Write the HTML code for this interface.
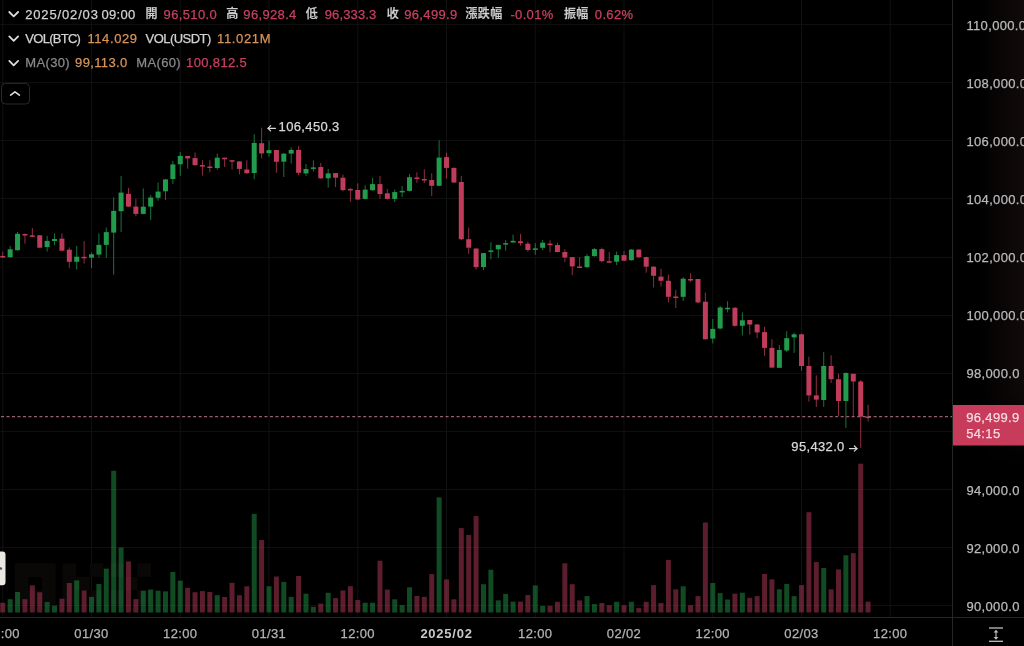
<!DOCTYPE html>
<html><head><meta charset="utf-8"><title>BTC chart</title><style>
html,body{margin:0;padding:0;background:#000;}
#root{position:relative;width:1024px;height:646px;background:#000;overflow:hidden;font-family:"Liberation Sans","Noto Sans CJK TC",sans-serif;font-size:13px;}
.t{position:absolute;white-space:nowrap;line-height:13px;letter-spacing:0.35px;-webkit-text-stroke:0.25px currentColor;}
</style></head><body><div id="root">
<svg width="1024" height="646" viewBox="0 0 1024 646" style="position:absolute;left:0;top:0"><defs><linearGradient id="axg" x1="0" x2="1" y1="0" y2="0"><stop offset="0" stop-color="#000"/><stop offset="0.33" stop-color="#000"/><stop offset="1" stop-color="#110a0b"/></linearGradient><linearGradient id="axm" x1="0" x2="0" y1="0" y2="1"><stop offset="0" stop-color="#fff"/><stop offset="0.8" stop-color="#fff"/><stop offset="1" stop-color="#000"/></linearGradient><mask id="axmask"><rect x="953" y="0" width="71" height="470" fill="url(#axm)"/></mask></defs><rect x="953" y="0" width="71" height="470" fill="url(#axg)" mask="url(#axmask)"/><line x1="0" x2="952" y1="24.5" y2="24.5" stroke="#0f0f0f" stroke-width="1"/><line x1="0" x2="952" y1="82.5" y2="82.5" stroke="#0f0f0f" stroke-width="1"/><line x1="0" x2="952" y1="140.5" y2="140.5" stroke="#0f0f0f" stroke-width="1"/><line x1="0" x2="952" y1="198.5" y2="198.5" stroke="#0f0f0f" stroke-width="1"/><line x1="0" x2="952" y1="257.5" y2="257.5" stroke="#0f0f0f" stroke-width="1"/><line x1="0" x2="952" y1="315.5" y2="315.5" stroke="#0f0f0f" stroke-width="1"/><line x1="0" x2="952" y1="373.5" y2="373.5" stroke="#0f0f0f" stroke-width="1"/><line x1="0" x2="952" y1="431.5" y2="431.5" stroke="#0f0f0f" stroke-width="1"/><line x1="0" x2="952" y1="489.5" y2="489.5" stroke="#0f0f0f" stroke-width="1"/><line x1="0" x2="952" y1="547.5" y2="547.5" stroke="#0f0f0f" stroke-width="1"/><line x1="0" x2="952" y1="605.5" y2="605.5" stroke="#0f0f0f" stroke-width="1"/><line x1="2.75" x2="2.75" y1="0" y2="617" stroke="#111111" stroke-width="1"/><line x1="91.5" x2="91.5" y1="0" y2="617" stroke="#111111" stroke-width="1"/><line x1="180.25" x2="180.25" y1="0" y2="617" stroke="#111111" stroke-width="1"/><line x1="269.0" x2="269.0" y1="0" y2="617" stroke="#111111" stroke-width="1"/><line x1="357.75" x2="357.75" y1="0" y2="617" stroke="#111111" stroke-width="1"/><line x1="446.5" x2="446.5" y1="0" y2="617" stroke="#111111" stroke-width="1"/><line x1="535.25" x2="535.25" y1="0" y2="617" stroke="#111111" stroke-width="1"/><line x1="624.0" x2="624.0" y1="0" y2="617" stroke="#111111" stroke-width="1"/><line x1="712.75" x2="712.75" y1="0" y2="617" stroke="#111111" stroke-width="1"/><line x1="801.5" x2="801.5" y1="0" y2="617" stroke="#111111" stroke-width="1"/><line x1="890.25" x2="890.25" y1="0" y2="617" stroke="#111111" stroke-width="1"/><path d="M14.8 563.3h40.8v40.8h-40.8z M28.4 576.9v13.6h13.6v-13.6z" fill="#0a0707" fill-rule="evenodd"/><rect x="62.5" y="563.3" width="13.6" height="13.6" fill="#0a0707"/><rect x="62.5" y="576.9" width="13.6" height="13.6" fill="#0a0707"/><rect x="62.5" y="590.5" width="13.6" height="13.6" fill="#0a0707"/><rect x="76.1" y="576.9" width="13.6" height="13.6" fill="#0a0707"/><rect x="89.7" y="563.3" width="13.6" height="13.6" fill="#0a0707"/><rect x="89.7" y="590.5" width="13.6" height="13.6" fill="#0a0707"/><rect x="110.2" y="563.3" width="13.6" height="13.6" fill="#0a0707"/><rect x="137.4" y="563.3" width="13.6" height="13.6" fill="#0a0707"/><rect x="123.8" y="576.9" width="13.6" height="13.6" fill="#0a0707"/><rect x="110.2" y="590.5" width="13.6" height="13.6" fill="#0a0707"/><rect x="137.4" y="590.5" width="13.6" height="13.6" fill="#0a0707"/><rect x="0.25" y="602.7" width="5.0" height="9.8" fill="#c03c5b" fill-opacity="0.48"/><rect x="7.65" y="599.2" width="5.0" height="13.3" fill="#229c4c" fill-opacity="0.48"/><rect x="15.04" y="592.0" width="5.0" height="20.5" fill="#229c4c" fill-opacity="0.48"/><rect x="22.44" y="599.2" width="5.0" height="13.3" fill="#c03c5b" fill-opacity="0.48"/><rect x="29.83" y="585.3" width="5.0" height="27.2" fill="#c03c5b" fill-opacity="0.48"/><rect x="37.23" y="592.3" width="5.0" height="20.2" fill="#c03c5b" fill-opacity="0.48"/><rect x="44.63" y="602.1" width="5.0" height="10.4" fill="#229c4c" fill-opacity="0.48"/><rect x="52.02" y="605.6" width="5.0" height="6.9" fill="#229c4c" fill-opacity="0.48"/><rect x="59.42" y="598.7" width="5.0" height="13.8" fill="#c03c5b" fill-opacity="0.48"/><rect x="66.81" y="583.0" width="5.0" height="29.5" fill="#c03c5b" fill-opacity="0.48"/><rect x="74.21" y="580.4" width="5.0" height="32.1" fill="#229c4c" fill-opacity="0.48"/><rect x="81.61" y="590.5" width="5.0" height="22.0" fill="#c03c5b" fill-opacity="0.48"/><rect x="89.00" y="596.9" width="5.0" height="15.6" fill="#229c4c" fill-opacity="0.48"/><rect x="96.40" y="584.0" width="5.0" height="28.5" fill="#229c4c" fill-opacity="0.48"/><rect x="103.79" y="568.6" width="5.0" height="43.9" fill="#229c4c" fill-opacity="0.48"/><rect x="111.19" y="470.8" width="5.0" height="141.7" fill="#229c4c" fill-opacity="0.48"/><rect x="118.59" y="547.5" width="5.0" height="65.0" fill="#229c4c" fill-opacity="0.48"/><rect x="125.98" y="561.4" width="5.0" height="51.1" fill="#c03c5b" fill-opacity="0.48"/><rect x="133.38" y="599.1" width="5.0" height="13.4" fill="#c03c5b" fill-opacity="0.48"/><rect x="140.77" y="590.7" width="5.0" height="21.8" fill="#229c4c" fill-opacity="0.48"/><rect x="148.17" y="589.5" width="5.0" height="23.0" fill="#229c4c" fill-opacity="0.48"/><rect x="155.57" y="590.7" width="5.0" height="21.8" fill="#229c4c" fill-opacity="0.48"/><rect x="162.96" y="591.4" width="5.0" height="21.1" fill="#229c4c" fill-opacity="0.48"/><rect x="170.36" y="572.0" width="5.0" height="40.5" fill="#229c4c" fill-opacity="0.48"/><rect x="177.75" y="580.6" width="5.0" height="31.9" fill="#229c4c" fill-opacity="0.48"/><rect x="185.15" y="587.8" width="5.0" height="24.7" fill="#c03c5b" fill-opacity="0.48"/><rect x="192.55" y="592.2" width="5.0" height="20.3" fill="#c03c5b" fill-opacity="0.48"/><rect x="199.94" y="591.1" width="5.0" height="21.4" fill="#c03c5b" fill-opacity="0.48"/><rect x="207.34" y="592.0" width="5.0" height="20.5" fill="#c03c5b" fill-opacity="0.48"/><rect x="214.73" y="595.2" width="5.0" height="17.3" fill="#229c4c" fill-opacity="0.48"/><rect x="222.13" y="597.0" width="5.0" height="15.5" fill="#c03c5b" fill-opacity="0.48"/><rect x="229.53" y="582.7" width="5.0" height="29.8" fill="#c03c5b" fill-opacity="0.48"/><rect x="236.92" y="595.2" width="5.0" height="17.3" fill="#c03c5b" fill-opacity="0.48"/><rect x="244.32" y="586.3" width="5.0" height="26.2" fill="#c03c5b" fill-opacity="0.48"/><rect x="251.71" y="513.9" width="5.0" height="98.6" fill="#229c4c" fill-opacity="0.48"/><rect x="259.11" y="540.0" width="5.0" height="72.5" fill="#c03c5b" fill-opacity="0.48"/><rect x="266.51" y="586.3" width="5.0" height="26.2" fill="#229c4c" fill-opacity="0.48"/><rect x="273.90" y="576.5" width="5.0" height="36.0" fill="#c03c5b" fill-opacity="0.48"/><rect x="281.30" y="581.9" width="5.0" height="30.6" fill="#229c4c" fill-opacity="0.48"/><rect x="288.69" y="596.9" width="5.0" height="15.6" fill="#229c4c" fill-opacity="0.48"/><rect x="296.09" y="576.0" width="5.0" height="36.5" fill="#c03c5b" fill-opacity="0.48"/><rect x="303.49" y="593.7" width="5.0" height="18.8" fill="#229c4c" fill-opacity="0.48"/><rect x="310.88" y="606.8" width="5.0" height="5.7" fill="#229c4c" fill-opacity="0.48"/><rect x="318.28" y="603.6" width="5.0" height="8.9" fill="#c03c5b" fill-opacity="0.48"/><rect x="325.67" y="592.8" width="5.0" height="19.7" fill="#229c4c" fill-opacity="0.48"/><rect x="333.07" y="598.1" width="5.0" height="14.4" fill="#c03c5b" fill-opacity="0.48"/><rect x="340.47" y="590.5" width="5.0" height="22.0" fill="#c03c5b" fill-opacity="0.48"/><rect x="347.86" y="586.2" width="5.0" height="26.3" fill="#c03c5b" fill-opacity="0.48"/><rect x="355.26" y="600.0" width="5.0" height="12.5" fill="#c03c5b" fill-opacity="0.48"/><rect x="362.65" y="602.7" width="5.0" height="9.8" fill="#229c4c" fill-opacity="0.48"/><rect x="370.05" y="602.7" width="5.0" height="9.8" fill="#229c4c" fill-opacity="0.48"/><rect x="377.45" y="560.7" width="5.0" height="51.8" fill="#c03c5b" fill-opacity="0.48"/><rect x="384.84" y="589.6" width="5.0" height="22.9" fill="#c03c5b" fill-opacity="0.48"/><rect x="392.24" y="599.3" width="5.0" height="13.2" fill="#229c4c" fill-opacity="0.48"/><rect x="399.63" y="605.1" width="5.0" height="7.4" fill="#229c4c" fill-opacity="0.48"/><rect x="407.03" y="587.3" width="5.0" height="25.2" fill="#229c4c" fill-opacity="0.48"/><rect x="414.43" y="596.0" width="5.0" height="16.5" fill="#c03c5b" fill-opacity="0.48"/><rect x="421.82" y="596.8" width="5.0" height="15.7" fill="#c03c5b" fill-opacity="0.48"/><rect x="429.22" y="574.1" width="5.0" height="38.4" fill="#c03c5b" fill-opacity="0.48"/><rect x="436.61" y="497.4" width="5.0" height="115.1" fill="#229c4c" fill-opacity="0.48"/><rect x="444.01" y="579.4" width="5.0" height="33.1" fill="#c03c5b" fill-opacity="0.48"/><rect x="451.41" y="599.3" width="5.0" height="13.2" fill="#c03c5b" fill-opacity="0.48"/><rect x="458.80" y="528.1" width="5.0" height="84.4" fill="#c03c5b" fill-opacity="0.48"/><rect x="466.20" y="534.9" width="5.0" height="77.6" fill="#c03c5b" fill-opacity="0.48"/><rect x="473.59" y="516.1" width="5.0" height="96.4" fill="#c03c5b" fill-opacity="0.48"/><rect x="480.99" y="584.2" width="5.0" height="28.3" fill="#229c4c" fill-opacity="0.48"/><rect x="488.39" y="569.7" width="5.0" height="42.8" fill="#229c4c" fill-opacity="0.48"/><rect x="495.78" y="600.4" width="5.0" height="12.1" fill="#229c4c" fill-opacity="0.48"/><rect x="503.18" y="593.9" width="5.0" height="18.6" fill="#229c4c" fill-opacity="0.48"/><rect x="510.57" y="601.6" width="5.0" height="10.9" fill="#229c4c" fill-opacity="0.48"/><rect x="517.97" y="601.6" width="5.0" height="10.9" fill="#c03c5b" fill-opacity="0.48"/><rect x="525.37" y="595.0" width="5.0" height="17.5" fill="#c03c5b" fill-opacity="0.48"/><rect x="532.76" y="585.4" width="5.0" height="27.1" fill="#229c4c" fill-opacity="0.48"/><rect x="540.16" y="605.9" width="5.0" height="6.6" fill="#229c4c" fill-opacity="0.48"/><rect x="547.55" y="605.9" width="5.0" height="6.6" fill="#c03c5b" fill-opacity="0.48"/><rect x="554.95" y="601.8" width="5.0" height="10.7" fill="#c03c5b" fill-opacity="0.48"/><rect x="562.35" y="563.3" width="5.0" height="49.2" fill="#c03c5b" fill-opacity="0.48"/><rect x="569.74" y="584.2" width="5.0" height="28.3" fill="#c03c5b" fill-opacity="0.48"/><rect x="577.14" y="600.4" width="5.0" height="12.1" fill="#c03c5b" fill-opacity="0.48"/><rect x="584.53" y="596.1" width="5.0" height="16.4" fill="#229c4c" fill-opacity="0.48"/><rect x="591.93" y="604.1" width="5.0" height="8.4" fill="#229c4c" fill-opacity="0.48"/><rect x="599.33" y="603.0" width="5.0" height="9.5" fill="#c03c5b" fill-opacity="0.48"/><rect x="606.72" y="605.2" width="5.0" height="7.3" fill="#c03c5b" fill-opacity="0.48"/><rect x="614.12" y="601.8" width="5.0" height="10.7" fill="#229c4c" fill-opacity="0.48"/><rect x="621.51" y="605.2" width="5.0" height="7.3" fill="#c03c5b" fill-opacity="0.48"/><rect x="628.91" y="601.8" width="5.0" height="10.7" fill="#229c4c" fill-opacity="0.48"/><rect x="636.31" y="608.1" width="5.0" height="4.4" fill="#c03c5b" fill-opacity="0.48"/><rect x="643.70" y="601.8" width="5.0" height="10.7" fill="#c03c5b" fill-opacity="0.48"/><rect x="651.10" y="585.1" width="5.0" height="27.4" fill="#c03c5b" fill-opacity="0.48"/><rect x="658.49" y="603.0" width="5.0" height="9.5" fill="#c03c5b" fill-opacity="0.48"/><rect x="665.89" y="559.9" width="5.0" height="52.6" fill="#c03c5b" fill-opacity="0.48"/><rect x="673.29" y="589.3" width="5.0" height="23.2" fill="#c03c5b" fill-opacity="0.48"/><rect x="680.68" y="586.3" width="5.0" height="26.2" fill="#229c4c" fill-opacity="0.48"/><rect x="688.08" y="605.2" width="5.0" height="7.3" fill="#c03c5b" fill-opacity="0.48"/><rect x="695.47" y="596.1" width="5.0" height="16.4" fill="#c03c5b" fill-opacity="0.48"/><rect x="702.87" y="522.5" width="5.0" height="90.0" fill="#c03c5b" fill-opacity="0.48"/><rect x="710.27" y="583.0" width="5.0" height="29.5" fill="#229c4c" fill-opacity="0.48"/><rect x="717.66" y="593.1" width="5.0" height="19.4" fill="#229c4c" fill-opacity="0.48"/><rect x="725.06" y="599.5" width="5.0" height="13.0" fill="#229c4c" fill-opacity="0.48"/><rect x="732.45" y="593.6" width="5.0" height="18.9" fill="#c03c5b" fill-opacity="0.48"/><rect x="739.85" y="592.7" width="5.0" height="19.8" fill="#229c4c" fill-opacity="0.48"/><rect x="747.25" y="597.8" width="5.0" height="14.7" fill="#c03c5b" fill-opacity="0.48"/><rect x="754.64" y="596.1" width="5.0" height="16.4" fill="#c03c5b" fill-opacity="0.48"/><rect x="762.04" y="574.0" width="5.0" height="38.5" fill="#c03c5b" fill-opacity="0.48"/><rect x="769.43" y="579.4" width="5.0" height="33.1" fill="#c03c5b" fill-opacity="0.48"/><rect x="776.83" y="589.3" width="5.0" height="23.2" fill="#229c4c" fill-opacity="0.48"/><rect x="784.23" y="583.9" width="5.0" height="28.6" fill="#229c4c" fill-opacity="0.48"/><rect x="791.62" y="596.1" width="5.0" height="16.4" fill="#229c4c" fill-opacity="0.48"/><rect x="799.02" y="585.1" width="5.0" height="27.4" fill="#c03c5b" fill-opacity="0.48"/><rect x="806.41" y="512.2" width="5.0" height="100.3" fill="#c03c5b" fill-opacity="0.48"/><rect x="813.81" y="562.1" width="5.0" height="50.4" fill="#c03c5b" fill-opacity="0.48"/><rect x="821.21" y="568.0" width="5.0" height="44.5" fill="#229c4c" fill-opacity="0.48"/><rect x="828.60" y="589.3" width="5.0" height="23.2" fill="#c03c5b" fill-opacity="0.48"/><rect x="836.00" y="569.4" width="5.0" height="43.1" fill="#c03c5b" fill-opacity="0.48"/><rect x="843.39" y="555.3" width="5.0" height="57.2" fill="#229c4c" fill-opacity="0.48"/><rect x="850.79" y="553.2" width="5.0" height="59.3" fill="#c03c5b" fill-opacity="0.48"/><rect x="858.19" y="463.7" width="5.0" height="148.8" fill="#c03c5b" fill-opacity="0.48"/><rect x="865.58" y="601.6" width="5.0" height="10.9" fill="#c03c5b" fill-opacity="0.48"/><rect x="2.25" y="251.6" width="1.0" height="6.4" fill="#c03c5b" fill-opacity="0.75"/><rect x="0.25" y="256.0" width="5.0" height="1.5" fill="#c03c5b"/><rect x="9.65" y="246.0" width="1.0" height="11.5" fill="#229c4c" fill-opacity="0.75"/><rect x="7.65" y="249.3" width="5.0" height="7.9" fill="#229c4c"/><rect x="17.04" y="232.0" width="1.0" height="18.7" fill="#229c4c" fill-opacity="0.75"/><rect x="15.04" y="233.8" width="5.0" height="16.4" fill="#229c4c"/><rect x="24.44" y="233.5" width="1.0" height="10.2" fill="#c03c5b" fill-opacity="0.75"/><rect x="22.44" y="234.0" width="5.0" height="1.5" fill="#c03c5b"/><rect x="31.83" y="227.9" width="1.0" height="9.3" fill="#c03c5b" fill-opacity="0.75"/><rect x="29.83" y="235.3" width="5.0" height="1.5" fill="#c03c5b"/><rect x="39.23" y="235.0" width="1.0" height="13.0" fill="#c03c5b" fill-opacity="0.75"/><rect x="37.23" y="235.3" width="5.0" height="12.4" fill="#c03c5b"/><rect x="46.63" y="235.8" width="1.0" height="15.8" fill="#229c4c" fill-opacity="0.75"/><rect x="44.63" y="240.9" width="5.0" height="6.1" fill="#229c4c"/><rect x="54.02" y="233.5" width="1.0" height="11.6" fill="#229c4c" fill-opacity="0.75"/><rect x="52.02" y="239.0" width="5.0" height="2.0" fill="#229c4c"/><rect x="61.42" y="233.5" width="1.0" height="17.6" fill="#c03c5b" fill-opacity="0.75"/><rect x="59.42" y="238.6" width="5.0" height="12.1" fill="#c03c5b"/><rect x="68.81" y="247.4" width="1.0" height="20.5" fill="#c03c5b" fill-opacity="0.75"/><rect x="66.81" y="249.7" width="5.0" height="12.1" fill="#c03c5b"/><rect x="76.21" y="245.8" width="1.0" height="23.6" fill="#229c4c" fill-opacity="0.75"/><rect x="74.21" y="256.7" width="5.0" height="5.1" fill="#229c4c"/><rect x="83.61" y="241.1" width="1.0" height="22.5" fill="#c03c5b" fill-opacity="0.75"/><rect x="81.61" y="256.8" width="5.0" height="1.5" fill="#c03c5b"/><rect x="91.00" y="252.6" width="1.0" height="15.3" fill="#229c4c" fill-opacity="0.75"/><rect x="89.00" y="254.3" width="5.0" height="3.4" fill="#229c4c"/><rect x="98.40" y="233.3" width="1.0" height="24.4" fill="#229c4c" fill-opacity="0.75"/><rect x="96.40" y="244.9" width="5.0" height="9.7" fill="#229c4c"/><rect x="105.79" y="227.5" width="1.0" height="30.2" fill="#229c4c" fill-opacity="0.75"/><rect x="103.79" y="232.1" width="5.0" height="12.8" fill="#229c4c"/><rect x="113.19" y="197.2" width="1.0" height="77.5" fill="#229c4c" fill-opacity="0.75"/><rect x="111.19" y="210.9" width="5.0" height="21.7" fill="#229c4c"/><rect x="120.59" y="176.0" width="1.0" height="56.1" fill="#229c4c" fill-opacity="0.75"/><rect x="118.59" y="192.6" width="5.0" height="18.6" fill="#229c4c"/><rect x="127.98" y="187.9" width="1.0" height="19.2" fill="#c03c5b" fill-opacity="0.75"/><rect x="125.98" y="193.8" width="5.0" height="12.8" fill="#c03c5b"/><rect x="135.38" y="198.9" width="1.0" height="17.4" fill="#c03c5b" fill-opacity="0.75"/><rect x="133.38" y="206.6" width="5.0" height="7.3" fill="#c03c5b"/><rect x="142.77" y="188.4" width="1.0" height="26.0" fill="#229c4c" fill-opacity="0.75"/><rect x="140.77" y="206.7" width="5.0" height="7.2" fill="#229c4c"/><rect x="150.17" y="195.0" width="1.0" height="25.1" fill="#229c4c" fill-opacity="0.75"/><rect x="148.17" y="197.5" width="5.0" height="9.1" fill="#229c4c"/><rect x="157.57" y="182.5" width="1.0" height="18.1" fill="#229c4c" fill-opacity="0.75"/><rect x="155.57" y="191.6" width="5.0" height="6.2" fill="#229c4c"/><rect x="164.96" y="179.0" width="1.0" height="21.0" fill="#229c4c" fill-opacity="0.75"/><rect x="162.96" y="179.4" width="5.0" height="11.9" fill="#229c4c"/><rect x="172.36" y="160.9" width="1.0" height="23.0" fill="#229c4c" fill-opacity="0.75"/><rect x="170.36" y="164.4" width="5.0" height="14.6" fill="#229c4c"/><rect x="179.75" y="152.0" width="1.0" height="23.8" fill="#229c4c" fill-opacity="0.75"/><rect x="177.75" y="155.9" width="5.0" height="8.4" fill="#229c4c"/><rect x="187.15" y="156.0" width="1.0" height="12.6" fill="#c03c5b" fill-opacity="0.75"/><rect x="185.15" y="156.0" width="5.0" height="2.4" fill="#c03c5b"/><rect x="194.55" y="152.5" width="1.0" height="13.3" fill="#c03c5b" fill-opacity="0.75"/><rect x="192.55" y="158.1" width="5.0" height="7.0" fill="#c03c5b"/><rect x="201.94" y="160.2" width="1.0" height="15.3" fill="#c03c5b" fill-opacity="0.75"/><rect x="199.94" y="165.1" width="5.0" height="1.5" fill="#c03c5b"/><rect x="209.34" y="160.2" width="1.0" height="12.1" fill="#c03c5b" fill-opacity="0.75"/><rect x="207.34" y="166.5" width="5.0" height="1.5" fill="#c03c5b"/><rect x="216.73" y="153.6" width="1.0" height="16.1" fill="#229c4c" fill-opacity="0.75"/><rect x="214.73" y="157.7" width="5.0" height="10.3" fill="#229c4c"/><rect x="224.13" y="157.7" width="1.0" height="9.3" fill="#c03c5b" fill-opacity="0.75"/><rect x="222.13" y="157.7" width="5.0" height="1.6" fill="#c03c5b"/><rect x="231.53" y="160.2" width="1.0" height="9.3" fill="#c03c5b" fill-opacity="0.75"/><rect x="229.53" y="160.2" width="5.0" height="1.5" fill="#c03c5b"/><rect x="238.92" y="161.4" width="1.0" height="13.0" fill="#c03c5b" fill-opacity="0.75"/><rect x="236.92" y="161.4" width="5.0" height="7.5" fill="#c03c5b"/><rect x="246.32" y="160.2" width="1.0" height="13.6" fill="#c03c5b" fill-opacity="0.75"/><rect x="244.32" y="169.5" width="5.0" height="3.7" fill="#c03c5b"/><rect x="253.71" y="134.2" width="1.0" height="45.2" fill="#229c4c" fill-opacity="0.75"/><rect x="251.71" y="142.9" width="5.0" height="30.1" fill="#229c4c"/><rect x="261.11" y="127.7" width="1.0" height="30.6" fill="#c03c5b" fill-opacity="0.75"/><rect x="259.11" y="143.2" width="5.0" height="10.2" fill="#c03c5b"/><rect x="268.51" y="140.7" width="1.0" height="15.9" fill="#229c4c" fill-opacity="0.75"/><rect x="266.51" y="150.1" width="5.0" height="3.1" fill="#229c4c"/><rect x="275.90" y="150.0" width="1.0" height="22.6" fill="#c03c5b" fill-opacity="0.75"/><rect x="273.90" y="150.0" width="5.0" height="11.8" fill="#c03c5b"/><rect x="283.30" y="152.9" width="1.0" height="24.1" fill="#229c4c" fill-opacity="0.75"/><rect x="281.30" y="153.7" width="5.0" height="8.0" fill="#229c4c"/><rect x="290.69" y="147.4" width="1.0" height="16.1" fill="#229c4c" fill-opacity="0.75"/><rect x="288.69" y="149.9" width="5.0" height="3.7" fill="#229c4c"/><rect x="298.09" y="146.1" width="1.0" height="29.1" fill="#c03c5b" fill-opacity="0.75"/><rect x="296.09" y="149.9" width="5.0" height="22.9" fill="#c03c5b"/><rect x="305.49" y="164.1" width="1.0" height="11.8" fill="#229c4c" fill-opacity="0.75"/><rect x="303.49" y="169.0" width="5.0" height="4.4" fill="#229c4c"/><rect x="312.88" y="160.4" width="1.0" height="11.1" fill="#229c4c" fill-opacity="0.75"/><rect x="310.88" y="167.4" width="5.0" height="1.5" fill="#229c4c"/><rect x="320.28" y="162.9" width="1.0" height="16.1" fill="#c03c5b" fill-opacity="0.75"/><rect x="318.28" y="167.0" width="5.0" height="11.3" fill="#c03c5b"/><rect x="327.67" y="169.0" width="1.0" height="18.6" fill="#229c4c" fill-opacity="0.75"/><rect x="325.67" y="173.4" width="5.0" height="4.9" fill="#229c4c"/><rect x="335.07" y="173.1" width="1.0" height="13.9" fill="#c03c5b" fill-opacity="0.75"/><rect x="333.07" y="173.1" width="5.0" height="4.6" fill="#c03c5b"/><rect x="342.47" y="174.6" width="1.0" height="16.7" fill="#c03c5b" fill-opacity="0.75"/><rect x="340.47" y="177.7" width="5.0" height="12.4" fill="#c03c5b"/><rect x="349.86" y="188.2" width="1.0" height="13.7" fill="#c03c5b" fill-opacity="0.75"/><rect x="347.86" y="188.9" width="5.0" height="1.5" fill="#c03c5b"/><rect x="357.26" y="183.3" width="1.0" height="16.8" fill="#c03c5b" fill-opacity="0.75"/><rect x="355.26" y="190.0" width="5.0" height="9.5" fill="#c03c5b"/><rect x="364.65" y="185.3" width="1.0" height="14.2" fill="#229c4c" fill-opacity="0.75"/><rect x="362.65" y="189.6" width="5.0" height="9.3" fill="#229c4c"/><rect x="372.05" y="177.9" width="1.0" height="13.0" fill="#229c4c" fill-opacity="0.75"/><rect x="370.05" y="184.1" width="5.0" height="6.1" fill="#229c4c"/><rect x="379.45" y="176.0" width="1.0" height="22.9" fill="#c03c5b" fill-opacity="0.75"/><rect x="377.45" y="184.1" width="5.0" height="9.9" fill="#c03c5b"/><rect x="386.84" y="189.0" width="1.0" height="10.5" fill="#c03c5b" fill-opacity="0.75"/><rect x="384.84" y="193.3" width="5.0" height="5.6" fill="#c03c5b"/><rect x="394.24" y="189.6" width="1.0" height="12.4" fill="#229c4c" fill-opacity="0.75"/><rect x="392.24" y="192.1" width="5.0" height="6.8" fill="#229c4c"/><rect x="401.63" y="185.9" width="1.0" height="11.2" fill="#229c4c" fill-opacity="0.75"/><rect x="399.63" y="190.9" width="5.0" height="1.5" fill="#229c4c"/><rect x="409.03" y="174.1" width="1.0" height="17.4" fill="#229c4c" fill-opacity="0.75"/><rect x="407.03" y="177.2" width="5.0" height="13.7" fill="#229c4c"/><rect x="416.43" y="172.3" width="1.0" height="10.5" fill="#c03c5b" fill-opacity="0.75"/><rect x="414.43" y="177.5" width="5.0" height="1.5" fill="#c03c5b"/><rect x="423.82" y="169.3" width="1.0" height="13.7" fill="#c03c5b" fill-opacity="0.75"/><rect x="421.82" y="179.0" width="5.0" height="1.5" fill="#c03c5b"/><rect x="431.22" y="173.3" width="1.0" height="22.8" fill="#c03c5b" fill-opacity="0.75"/><rect x="429.22" y="180.0" width="5.0" height="5.8" fill="#c03c5b"/><rect x="438.61" y="140.3" width="1.0" height="45.5" fill="#229c4c" fill-opacity="0.75"/><rect x="436.61" y="157.6" width="5.0" height="28.2" fill="#229c4c"/><rect x="446.01" y="152.7" width="1.0" height="26.0" fill="#c03c5b" fill-opacity="0.75"/><rect x="444.01" y="157.1" width="5.0" height="10.8" fill="#c03c5b"/><rect x="453.41" y="167.4" width="1.0" height="15.7" fill="#c03c5b" fill-opacity="0.75"/><rect x="451.41" y="167.9" width="5.0" height="14.6" fill="#c03c5b"/><rect x="460.80" y="175.8" width="1.0" height="64.2" fill="#c03c5b" fill-opacity="0.75"/><rect x="458.80" y="182.0" width="5.0" height="57.2" fill="#c03c5b"/><rect x="468.20" y="227.6" width="1.0" height="26.3" fill="#c03c5b" fill-opacity="0.75"/><rect x="466.20" y="239.2" width="5.0" height="8.5" fill="#c03c5b"/><rect x="475.59" y="248.5" width="1.0" height="20.9" fill="#c03c5b" fill-opacity="0.75"/><rect x="473.59" y="248.5" width="5.0" height="18.6" fill="#c03c5b"/><rect x="482.99" y="253.1" width="1.0" height="17.1" fill="#229c4c" fill-opacity="0.75"/><rect x="480.99" y="253.1" width="5.0" height="14.0" fill="#229c4c"/><rect x="490.39" y="242.3" width="1.0" height="17.0" fill="#229c4c" fill-opacity="0.75"/><rect x="488.39" y="250.4" width="5.0" height="1.5" fill="#229c4c"/><rect x="497.78" y="244.9" width="1.0" height="12.9" fill="#229c4c" fill-opacity="0.75"/><rect x="495.78" y="244.9" width="5.0" height="4.4" fill="#229c4c"/><rect x="505.18" y="240.0" width="1.0" height="10.8" fill="#229c4c" fill-opacity="0.75"/><rect x="503.18" y="243.1" width="5.0" height="1.5" fill="#229c4c"/><rect x="512.57" y="234.5" width="1.0" height="8.0" fill="#229c4c" fill-opacity="0.75"/><rect x="510.57" y="240.8" width="5.0" height="1.7" fill="#229c4c"/><rect x="519.97" y="233.8" width="1.0" height="11.9" fill="#c03c5b" fill-opacity="0.75"/><rect x="517.97" y="241.3" width="5.0" height="1.8" fill="#c03c5b"/><rect x="527.37" y="241.8" width="1.0" height="10.0" fill="#c03c5b" fill-opacity="0.75"/><rect x="525.37" y="243.7" width="5.0" height="6.3" fill="#c03c5b"/><rect x="534.76" y="243.1" width="1.0" height="11.6" fill="#229c4c" fill-opacity="0.75"/><rect x="532.76" y="248.4" width="5.0" height="1.5" fill="#229c4c"/><rect x="542.16" y="239.9" width="1.0" height="10.2" fill="#229c4c" fill-opacity="0.75"/><rect x="540.16" y="242.7" width="5.0" height="5.1" fill="#229c4c"/><rect x="549.55" y="240.3" width="1.0" height="12.1" fill="#c03c5b" fill-opacity="0.75"/><rect x="547.55" y="243.6" width="5.0" height="1.5" fill="#c03c5b"/><rect x="556.95" y="242.7" width="1.0" height="9.7" fill="#c03c5b" fill-opacity="0.75"/><rect x="554.95" y="245.0" width="5.0" height="7.0" fill="#c03c5b"/><rect x="564.35" y="249.2" width="1.0" height="13.0" fill="#c03c5b" fill-opacity="0.75"/><rect x="562.35" y="252.0" width="5.0" height="5.5" fill="#c03c5b"/><rect x="571.74" y="257.1" width="1.0" height="18.1" fill="#c03c5b" fill-opacity="0.75"/><rect x="569.74" y="257.1" width="5.0" height="9.3" fill="#c03c5b"/><rect x="579.14" y="257.1" width="1.0" height="10.6" fill="#c03c5b" fill-opacity="0.75"/><rect x="577.14" y="266.5" width="5.0" height="1.5" fill="#c03c5b"/><rect x="586.53" y="254.1" width="1.0" height="13.6" fill="#229c4c" fill-opacity="0.75"/><rect x="584.53" y="256.1" width="5.0" height="11.1" fill="#229c4c"/><rect x="593.93" y="248.1" width="1.0" height="8.5" fill="#229c4c" fill-opacity="0.75"/><rect x="591.93" y="249.1" width="5.0" height="7.0" fill="#229c4c"/><rect x="601.33" y="247.6" width="1.0" height="14.6" fill="#c03c5b" fill-opacity="0.75"/><rect x="599.33" y="249.1" width="5.0" height="12.1" fill="#c03c5b"/><rect x="608.72" y="252.1" width="1.0" height="10.1" fill="#c03c5b" fill-opacity="0.75"/><rect x="606.72" y="261.2" width="5.0" height="1.5" fill="#c03c5b"/><rect x="616.12" y="251.6" width="1.0" height="13.6" fill="#229c4c" fill-opacity="0.75"/><rect x="614.12" y="255.1" width="5.0" height="6.6" fill="#229c4c"/><rect x="623.51" y="251.1" width="1.0" height="10.1" fill="#c03c5b" fill-opacity="0.75"/><rect x="621.51" y="255.1" width="5.0" height="5.6" fill="#c03c5b"/><rect x="630.91" y="249.1" width="1.0" height="11.6" fill="#229c4c" fill-opacity="0.75"/><rect x="628.91" y="249.6" width="5.0" height="10.6" fill="#229c4c"/><rect x="638.31" y="249.1" width="1.0" height="9.0" fill="#c03c5b" fill-opacity="0.75"/><rect x="636.31" y="249.6" width="5.0" height="7.5" fill="#c03c5b"/><rect x="645.70" y="256.6" width="1.0" height="16.1" fill="#c03c5b" fill-opacity="0.75"/><rect x="643.70" y="257.1" width="5.0" height="9.6" fill="#c03c5b"/><rect x="653.10" y="266.1" width="1.0" height="21.4" fill="#c03c5b" fill-opacity="0.75"/><rect x="651.10" y="266.7" width="5.0" height="9.1" fill="#c03c5b"/><rect x="660.49" y="268.9" width="1.0" height="17.5" fill="#c03c5b" fill-opacity="0.75"/><rect x="658.49" y="276.6" width="5.0" height="4.2" fill="#c03c5b"/><rect x="667.89" y="274.5" width="1.0" height="27.9" fill="#c03c5b" fill-opacity="0.75"/><rect x="665.89" y="280.8" width="5.0" height="16.0" fill="#c03c5b"/><rect x="675.29" y="289.8" width="1.0" height="18.2" fill="#c03c5b" fill-opacity="0.75"/><rect x="673.29" y="296.5" width="5.0" height="1.5" fill="#c03c5b"/><rect x="682.68" y="277.3" width="1.0" height="23.7" fill="#229c4c" fill-opacity="0.75"/><rect x="680.68" y="278.7" width="5.0" height="18.1" fill="#229c4c"/><rect x="690.08" y="273.1" width="1.0" height="9.1" fill="#c03c5b" fill-opacity="0.75"/><rect x="688.08" y="279.0" width="5.0" height="1.5" fill="#c03c5b"/><rect x="697.47" y="279.0" width="1.0" height="24.1" fill="#c03c5b" fill-opacity="0.75"/><rect x="695.47" y="279.0" width="5.0" height="23.4" fill="#c03c5b"/><rect x="704.87" y="292.6" width="1.0" height="46.7" fill="#c03c5b" fill-opacity="0.75"/><rect x="702.87" y="301.7" width="5.0" height="37.6" fill="#c03c5b"/><rect x="712.27" y="319.0" width="1.0" height="24.4" fill="#229c4c" fill-opacity="0.75"/><rect x="710.27" y="328.9" width="5.0" height="9.7" fill="#229c4c"/><rect x="719.66" y="305.9" width="1.0" height="23.3" fill="#229c4c" fill-opacity="0.75"/><rect x="717.66" y="307.5" width="5.0" height="21.0" fill="#229c4c"/><rect x="727.06" y="301.2" width="1.0" height="11.2" fill="#229c4c" fill-opacity="0.75"/><rect x="725.06" y="307.8" width="5.0" height="1.5" fill="#229c4c"/><rect x="734.45" y="307.1" width="1.0" height="19.7" fill="#c03c5b" fill-opacity="0.75"/><rect x="732.45" y="307.8" width="5.0" height="18.0" fill="#c03c5b"/><rect x="741.85" y="312.4" width="1.0" height="23.0" fill="#229c4c" fill-opacity="0.75"/><rect x="739.85" y="320.3" width="5.0" height="5.5" fill="#229c4c"/><rect x="749.25" y="320.0" width="1.0" height="14.7" fill="#c03c5b" fill-opacity="0.75"/><rect x="747.25" y="320.0" width="5.0" height="4.5" fill="#c03c5b"/><rect x="756.64" y="324.0" width="1.0" height="14.0" fill="#c03c5b" fill-opacity="0.75"/><rect x="754.64" y="324.5" width="5.0" height="7.9" fill="#c03c5b"/><rect x="764.04" y="326.8" width="1.0" height="29.0" fill="#c03c5b" fill-opacity="0.75"/><rect x="762.04" y="332.1" width="5.0" height="15.8" fill="#c03c5b"/><rect x="771.43" y="339.3" width="1.0" height="28.3" fill="#c03c5b" fill-opacity="0.75"/><rect x="769.43" y="347.9" width="5.0" height="19.7" fill="#c03c5b"/><rect x="778.83" y="345.0" width="1.0" height="22.8" fill="#229c4c" fill-opacity="0.75"/><rect x="776.83" y="350.0" width="5.0" height="17.8" fill="#229c4c"/><rect x="786.23" y="331.2" width="1.0" height="20.9" fill="#229c4c" fill-opacity="0.75"/><rect x="784.23" y="338.2" width="5.0" height="12.3" fill="#229c4c"/><rect x="793.62" y="332.7" width="1.0" height="20.2" fill="#229c4c" fill-opacity="0.75"/><rect x="791.62" y="334.3" width="5.0" height="3.1" fill="#229c4c"/><rect x="801.02" y="333.5" width="1.0" height="37.2" fill="#c03c5b" fill-opacity="0.75"/><rect x="799.02" y="334.3" width="5.0" height="31.7" fill="#c03c5b"/><rect x="808.41" y="356.7" width="1.0" height="44.9" fill="#c03c5b" fill-opacity="0.75"/><rect x="806.41" y="366.0" width="5.0" height="29.4" fill="#c03c5b"/><rect x="815.81" y="375.3" width="1.0" height="31.7" fill="#c03c5b" fill-opacity="0.75"/><rect x="813.81" y="395.4" width="5.0" height="4.2" fill="#c03c5b"/><rect x="823.21" y="352.1" width="1.0" height="54.7" fill="#229c4c" fill-opacity="0.75"/><rect x="821.21" y="366.0" width="5.0" height="34.0" fill="#229c4c"/><rect x="830.60" y="355.2" width="1.0" height="27.8" fill="#c03c5b" fill-opacity="0.75"/><rect x="828.60" y="366.0" width="5.0" height="13.2" fill="#c03c5b"/><rect x="838.00" y="373.8" width="1.0" height="42.0" fill="#c03c5b" fill-opacity="0.75"/><rect x="836.00" y="379.2" width="5.0" height="21.8" fill="#c03c5b"/><rect x="845.39" y="372.2" width="1.0" height="55.7" fill="#229c4c" fill-opacity="0.75"/><rect x="843.39" y="373.0" width="5.0" height="28.0" fill="#229c4c"/><rect x="852.79" y="373.8" width="1.0" height="42.4" fill="#c03c5b" fill-opacity="0.75"/><rect x="850.79" y="373.8" width="5.0" height="7.7" fill="#c03c5b"/><rect x="860.19" y="380.0" width="1.0" height="68.0" fill="#c03c5b" fill-opacity="0.75"/><rect x="858.19" y="381.5" width="5.0" height="35.1" fill="#c03c5b"/><rect x="867.58" y="404.6" width="1.0" height="16.9" fill="#c03c5b" fill-opacity="0.75"/><rect x="865.58" y="416.5" width="5.0" height="1.5" fill="#c03c5b"/><line x1="0" x2="953" y1="416.6" y2="416.6" stroke="#9a5f6d" stroke-width="1.1" stroke-dasharray="3 2.488" stroke-dashoffset="4.448"/><line x1="952.5" x2="952.5" y1="0" y2="646" stroke="#262626" stroke-width="1"/><line x1="0" x2="1024" y1="617.5" y2="617.5" stroke="#262626" stroke-width="1"/><rect x="953" y="405" width="71" height="40.5" fill="#c73b5b"/><g stroke="#d8d8d8" stroke-width="1.2" fill="none" stroke-linecap="round" stroke-linejoin="round"><line x1="268" x2="275.5" y1="128.3" y2="128.3"/><polyline points="270.6,125.7 268,128.3 270.6,130.9"/><line x1="849.5" x2="857" y1="448.6" y2="448.6"/><polyline points="854.4,446 857,448.6 854.4,451.2"/></g><rect x="1.5" y="83.4" width="28" height="20.6" rx="4" fill="#000" stroke="#2a2a2a" stroke-width="1"/><polyline points="10.6,95.1 15,91.8 19.4,95.1" fill="none" stroke="#e0e0e0" stroke-width="1.6" stroke-linecap="round" stroke-linejoin="round"/><polyline points="9.3,12.0 13.7,16.4 18.1,12.0" fill="none" stroke="#dcdcdc" stroke-width="1.8" stroke-linecap="round" stroke-linejoin="round"/><polyline points="9.3,36.4 13.7,40.8 18.1,36.4" fill="none" stroke="#dcdcdc" stroke-width="1.8" stroke-linecap="round" stroke-linejoin="round"/><polyline points="9.3,60.9 13.7,65.3 18.1,60.9" fill="none" stroke="#dcdcdc" stroke-width="1.8" stroke-linecap="round" stroke-linejoin="round"/><path d="M0 551.6h2.5a3 3 0 0 1 3 3v27.7a3 3 0 0 1 -3 3h-2.5z" fill="#ebe7e3"/><ellipse cx="0.6" cy="568.5" rx="1.6" ry="1.3" fill="#555"/><g stroke="#c0c0c0" stroke-width="1.3" fill="#c0c0c0"><line x1="989" x2="1003" y1="628" y2="628"/><line x1="989" x2="1003" y1="641.3" y2="641.3"/><line x1="996" x2="996" y1="631" y2="638.5" stroke-width="1.1"/><path d="M993.6 632.6L996 629.8L998.4 632.6z" stroke="none"/><path d="M993.6 637L996 639.8L998.4 637z" stroke="none"/></g></svg>
<div class="t" style="left:25.2px;top:8.3px;color:#d2d2d2;letter-spacing:0.85px">2025/02/03</div><div class="t" style="left:101.4px;top:8.3px;color:#d2d2d2">09:00</div><div class="t" style="left:145.4px;top:8.3px;color:#d0d0d0;font-weight:500;font-size:12px">開</div><div class="t" style="left:163.6px;top:8.3px;color:#c9405f">96,510.0</div><div class="t" style="left:226.2px;top:8.3px;color:#d0d0d0;font-weight:500;font-size:12px">高</div><div class="t" style="left:243.3px;top:8.3px;color:#c9405f">96,928.4</div><div class="t" style="left:305.8px;top:8.3px;color:#d0d0d0;font-weight:500;font-size:12px">低</div><div class="t" style="left:324.7px;top:8.3px;color:#c9405f;letter-spacing:0.15px">96,333.3</div><div class="t" style="left:386.7px;top:8.3px;color:#d0d0d0;font-weight:500;font-size:12px">收</div><div class="t" style="left:404.2px;top:8.3px;color:#c9405f">96,499.9</div><div class="t" style="left:465.5px;top:8.3px;color:#d0d0d0;font-weight:500;font-size:12px">漲跌幅</div><div class="t" style="left:510.4px;top:8.3px;color:#c9405f">-0.01%</div><div class="t" style="left:563.9px;top:8.3px;color:#d0d0d0;font-weight:500;font-size:12px">振幅</div><div class="t" style="left:594.8px;top:8.3px;color:#c9405f">0.62%</div><div class="t" style="left:25.3px;top:31.6px;color:#d2d2d2;letter-spacing:-0.72px">VOL(BTC)</div><div class="t" style="left:87.4px;top:31.6px;color:#d99458;letter-spacing:0.6px">114.029</div><div class="t" style="left:145.6px;top:31.6px;color:#d2d2d2;letter-spacing:-0.55px">VOL(USDT)</div><div class="t" style="left:217.0px;top:31.6px;color:#d99458;letter-spacing:0.65px">11.021M</div><div class="t" style="left:25.3px;top:55.8px;color:#8a8a8a">MA(30)</div><div class="t" style="left:75.1px;top:55.8px;color:#d99458">99,113.0</div><div class="t" style="left:136.3px;top:55.8px;color:#8a8a8a">MA(60)</div><div class="t" style="left:186.1px;top:55.8px;color:#c9405f">100,812.5</div><div class="t" style="left:966.4px;top:18.6px;color:#bababa">110,000.0</div><div class="t" style="left:966.4px;top:76.7px;color:#bababa">108,000.0</div><div class="t" style="left:966.4px;top:134.9px;color:#bababa">106,000.0</div><div class="t" style="left:966.4px;top:193.0px;color:#bababa">104,000.0</div><div class="t" style="left:966.4px;top:251.2px;color:#bababa">102,000.0</div><div class="t" style="left:966.4px;top:309.3px;color:#bababa">100,000.0</div><div class="t" style="left:966.4px;top:367.4px;color:#bababa">98,000.0</div><div class="t" style="left:966.4px;top:483.7px;color:#bababa">94,000.0</div><div class="t" style="left:966.4px;top:541.9px;color:#bababa">92,000.0</div><div class="t" style="left:966.4px;top:600.0px;color:#bababa">90,000.0</div><div class="t" style="left:966.2px;top:410.9px;color:#f6d9e0">96,499.9</div><div class="t" style="left:966.2px;top:427.3px;color:#f6d9e0">54:15</div><div class="t" style="left:278.6px;top:120.3px;color:#d8d8d8">106,450.3</div><div class="t" style="left:791.3px;top:440.3px;color:#d8d8d8">95,432.0</div><div class="t" style="left:2.75px;top:626.7px;color:#b4b4b4;transform:translateX(-50%)">12:00</div><div class="t" style="left:91.5px;top:626.7px;color:#b4b4b4;transform:translateX(-50%)">01/30</div><div class="t" style="left:180.25px;top:626.7px;color:#b4b4b4;transform:translateX(-50%)">12:00</div><div class="t" style="left:269.0px;top:626.7px;color:#b4b4b4;transform:translateX(-50%)">01/31</div><div class="t" style="left:357.75px;top:626.7px;color:#b4b4b4;transform:translateX(-50%)">12:00</div><div class="t" style="left:446.5px;top:626.7px;color:#c8c8c8;font-weight:bold;letter-spacing:0.75px;-webkit-text-stroke:0;transform:translateX(-50%)">2025/02</div><div class="t" style="left:535.25px;top:626.7px;color:#b4b4b4;transform:translateX(-50%)">12:00</div><div class="t" style="left:624.0px;top:626.7px;color:#b4b4b4;transform:translateX(-50%)">02/02</div><div class="t" style="left:712.75px;top:626.7px;color:#b4b4b4;transform:translateX(-50%)">12:00</div><div class="t" style="left:801.5px;top:626.7px;color:#b4b4b4;transform:translateX(-50%)">02/03</div><div class="t" style="left:890.25px;top:626.7px;color:#b4b4b4;transform:translateX(-50%)">12:00</div>
</div></body></html>
